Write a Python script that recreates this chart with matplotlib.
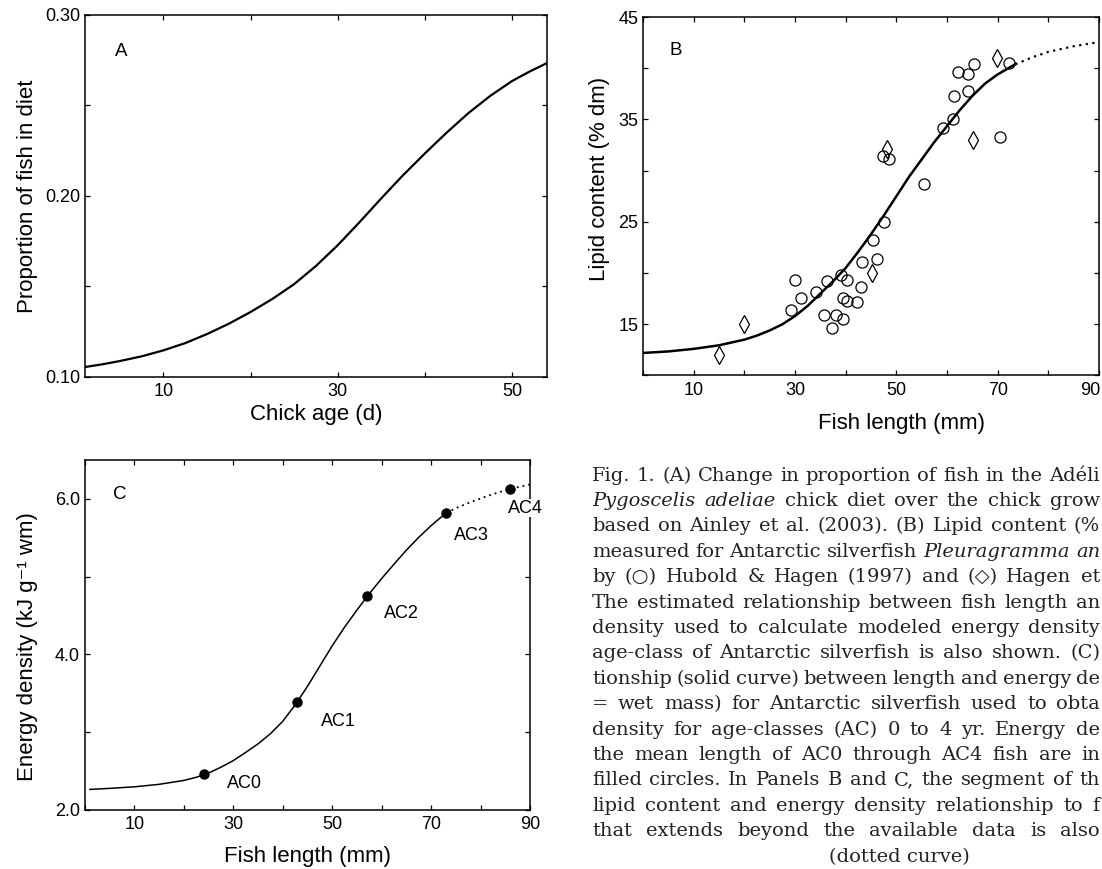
import matplotlib.pyplot as plt
from matplotlib.ticker import MultipleLocator

plt.close('all')
plt.rcParams['font.family'] = ['Liberation Sans', 'DejaVu Sans']

# Panel A: proportion of fish in chick diet vs chick age
age_d = [1, 3, 5, 7.5, 10, 12.5, 15, 17.5, 20, 22.5, 25, 27.5, 30, 32.5, 35,
         37.5, 40, 42.5, 45, 47.5, 50, 52, 54]
prop_fish = [0.1055, 0.1070, 0.1088, 0.1114, 0.1147, 0.1187, 0.1237, 0.1294,
             0.1359, 0.1431, 0.1513, 0.1613, 0.1728, 0.1855, 0.1987, 0.2115,
             0.2235, 0.2350, 0.2458, 0.2553, 0.2635, 0.2687, 0.2734]

# Panel B: lipid content vs fish length
hubold_len = [30.0, 29.3, 31.2, 34.1, 36.3, 35.8, 38.1, 37.3, 39.5, 39.0, 40.3,
              39.5, 40.3, 42.2, 43.1, 43.2, 46.2, 45.4, 47.5, 47.4, 48.5, 55.5,
              59.3, 61.1, 61.4, 62.2, 64.2, 64.2, 65.4, 70.5, 72.2]
hubold_lipid = [19.3, 16.4, 17.6, 18.2, 19.2, 15.9, 15.9, 14.6, 15.5, 19.85,
                19.3, 17.6, 17.3, 17.15, 18.6, 21.06, 21.4, 23.2, 25.0, 31.4,
                31.1, 28.65, 34.15, 35.07, 37.3, 39.6, 39.4, 37.8, 40.4, 33.3,
                40.5]
hagen_len = [15.0, 19.9, 45.2, 48.1, 65.2, 69.9]
hagen_lipid = [12.0, 15.0, 20.0, 32.1, 33.0, 41.0]

lipid_fit_len = [0, 5, 10, 15, 20, 22.5, 25, 27.5, 30, 32.5, 35, 37.5, 40, 42.5,
                 45, 47.5, 50, 52.5, 55, 57.5, 60, 62.5, 65, 67.5, 70, 73.5]
lipid_fit = [12.2, 12.35, 12.6, 12.95, 13.5, 13.9, 14.4, 15.0, 15.8, 16.8, 18.0,
             19.2, 20.5, 22.1, 23.8, 25.6, 27.5, 29.4, 31.1, 32.8, 34.35, 35.9,
             37.3, 38.5, 39.4, 40.4]
lipid_ext_len = [73.5, 77, 80, 85, 90.5]
lipid_ext = [40.4, 41.1, 41.6, 42.15, 42.6]

# Panel C: energy density vs fish length
energy_fit_len = [1, 5, 10, 15, 20, 22.5, 25, 27.5, 30, 32.5, 35, 37.5, 40,
                  42.5, 45, 47.5, 50, 52.5, 55, 57.5, 60, 62.5, 65, 67.5, 70,
                  72.5, 73.1]
energy_fit = [2.265, 2.278, 2.298, 2.33, 2.38, 2.42, 2.475, 2.55, 2.635, 2.74,
              2.85, 2.98, 3.14, 3.35, 3.59, 3.85, 4.11, 4.35, 4.57, 4.78,
              4.975, 5.16, 5.34, 5.505, 5.655, 5.79, 5.82]
energy_ext_len = [73.1, 75, 77.5, 80, 82.5, 85, 87.5, 90]
energy_ext = [5.82, 5.88, 5.945, 6.005, 6.06, 6.11, 6.15, 6.185]

age_classes = ['AC0', 'AC1', 'AC2', 'AC3', 'AC4']
ac_len = [24.05, 42.9, 57.0, 73.1, 85.9]
ac_energy = [2.46, 3.39, 4.745, 5.82, 6.13]
ac_label_offset = [(29, -7), (30, -14), (25, -12), (18, -16), (11, -14)]

# caption lines as visible in the figure (cut at the right edge);
# words wrapped in _ are italic
caption = [
    "Fig. 1. (A) Change in proportion of fish in the Adéli",
    "_Pygoscelis_ _adeliae_ chick diet over the chick grow",
    "based on Ainley et al. (2003). (B) Lipid content (%",
    "measured for Antarctic silverfish _Pleuragramma_ _an_",
    "by (\u25cb) Hubold & Hagen (1997) and (\u25c7) Hagen et",
    "The estimated relationship between fish length an",
    "density used to calculate modeled energy density",
    "age-class of Antarctic silverfish is also shown. (C)",
    "tionship (solid curve) between length and energy de",
    "= wet mass) for Antarctic silverfish used to obta",
    "density for age-classes (AC) 0 to 4 yr. Energy de",
    "the mean length of AC0 through AC4 fish are in",
    "filled circles. In Panels B and C, the segment of th",
    "lipid content and energy density relationship to f",
    "that extends beyond the available data is also",
]
caption_last = "(dotted curve)"


def style_axes(ax):
    for s in ax.spines.values():
        s.set_linewidth(1.1)
    ax.tick_params(which='both', direction='in', top=True, right=True,
                   length=3.6, width=0.9, labelsize=13, pad=4.5)
    ax.tick_params(axis='y', which='both', pad=3.5)


fig = plt.figure(figsize=(11.02, 8.69), dpi=100)
W, H = 1102, 869

# ---- Panel A
ax1 = fig.add_axes([0.0771, 0.5662, 0.4192, 0.4166])
ax1.plot(age_d, prop_fish, color='k', lw=1.6)
ax1.set_xlim(1, 54)
ax1.set_ylim(0.10, 0.30)
ax1.set_xticks([10, 30, 50])
ax1.xaxis.set_minor_locator(MultipleLocator(10))
ax1.set_yticks([0.10, 0.20, 0.30])
ax1.set_yticklabels(['0.10', '0.20', '0.30'])
ax1.yaxis.set_minor_locator(MultipleLocator(0.05))
style_axes(ax1)
ax1.set_xlabel('Chick age (d)', fontsize=16)
ax1.set_ylabel('Proportion of fish in diet', fontsize=16)
ax1.xaxis.set_label_coords(0.5, -0.0746)
ax1.yaxis.set_label_coords(-0.102, 0.5)
ax1.text(0.078, 0.898, 'A', transform=ax1.transAxes, fontsize=13.5,
         ha='center', va='center')

# ---- Panel B
ax2 = fig.add_axes([0.5835, 0.5679, 0.4138, 0.4125])
ax2.plot(lipid_fit_len, lipid_fit, color='k', lw=1.8)
ax2.plot(lipid_ext_len, lipid_ext, color='k', lw=1.6, linestyle=(0, (1, 2)))
ax2.plot(hubold_len, hubold_lipid, linestyle='none', marker='o', ms=8,
         mfc='none', mec='k', mew=0.9)
ax2.plot(hagen_len, hagen_lipid, linestyle='none', marker='d', ms=9,
         mfc='none', mec='k', mew=0.9)
ax2.set_xlim(0, 90)
ax2.set_ylim(10, 45)
ax2.set_xticks([10, 30, 50, 70, 90])
ax2.xaxis.set_minor_locator(MultipleLocator(10))
ax2.set_yticks([15, 25, 35, 45])
ax2.yaxis.set_minor_locator(MultipleLocator(5))
style_axes(ax2)
ax2.set_xticklabels(['10', '30', '50', '70', ''])
ax2.set_xlabel('Fish length (mm)', fontsize=16)
ax2.set_ylabel('Lipid content (% dm)', fontsize=16)
ax2.xaxis.set_label_coords(0.566, -0.1046)
ax2.yaxis.set_label_coords(-0.073, 0.548)
ax2.text(0.072, 0.908, 'B', transform=ax2.transAxes, fontsize=13.5,
         ha='center', va='center')
# "90" sits right against the figure edge in the original
ax2.text(1.004, -0.0174, '90', transform=ax2.transAxes, fontsize=13,
         ha='right', va='top')

# ---- Panel C
ax3 = fig.add_axes([0.0771, 0.0679, 0.4038, 0.4028])
ax3.plot(energy_fit_len, energy_fit, color='k', lw=1.1)
ax3.plot(energy_ext_len, energy_ext, color='k', lw=1.3, linestyle=(0, (1, 2.2)))
ax3.plot(ac_len, ac_energy, linestyle='none', marker='o', ms=6.5, color='k')
for name, x, y, off in zip(age_classes, ac_len, ac_energy, ac_label_offset):
    ax3.annotate(name, (x, y), xytext=off, textcoords='offset points',
                 fontsize=13, ha='center', va='center', annotation_clip=False,
                 bbox=dict(facecolor='white', edgecolor='none', pad=0.5),
                 zorder=5)
ax3.set_xlim(0, 90)
ax3.set_ylim(2.0, 6.5)
ax3.set_xticks([10, 30, 50, 70, 90])
ax3.xaxis.set_minor_locator(MultipleLocator(10))
ax3.set_yticks([2.0, 4.0, 6.0])
ax3.set_yticklabels(['2.0', '4.0', '6.0'])
ax3.yaxis.set_minor_locator(MultipleLocator(1.0))
style_axes(ax3)
ax3.set_xlabel('Fish length (mm)', fontsize=16)
ax3.set_ylabel('Energy density (kJ g\u207b\u00b9 wm)', fontsize=16)
ax3.xaxis.set_label_coords(0.5, -0.103)
ax3.yaxis.set_label_coords(-0.106, 0.466)
ax3.text(0.078, 0.9, 'C', transform=ax3.transAxes, fontsize=13.5,
         ha='center', va='center')

# ---- Caption, justified between x0 and x1 (pixels)
renderer = fig.canvas.get_renderer()
serif = ['DejaVu Serif', 'DejaVu Sans']
x0, x1 = 592, 1100
for i, line in enumerate(caption):
    y = 1 - (475.6 + 25.4 * i) / H
    texts = []
    for word in line.split(' '):
        italic = word.startswith('_') and word.endswith('_')
        texts.append(fig.text(0, y, word.strip('_'), family=serif, fontsize=14,
                              fontstyle='italic' if italic else 'normal',
                              color='#222222', ha='left', va='center'))
    widths = [t.get_window_extent(renderer).width for t in texts]
    gap = max((x1 - x0 - sum(widths)) / (len(texts) - 1), 4)
    x = x0
    for t, w in zip(texts, widths):
        t.set_x(x / W)
        x += w + gap
fig.text(899 / W, 1 - (475.6 + 25.4 * len(caption)) / H, caption_last,
         family=serif, fontsize=14, color='#222222', ha='center', va='center')

plt.savefig('out.png', dpi=100)
